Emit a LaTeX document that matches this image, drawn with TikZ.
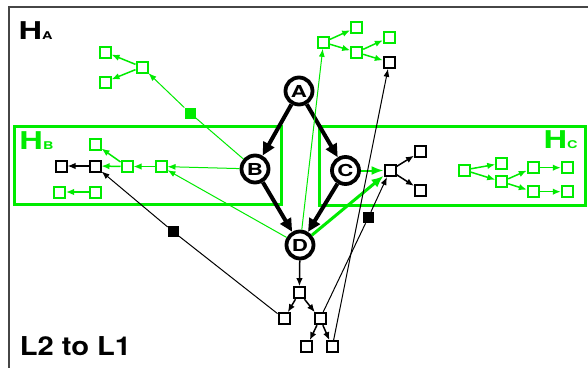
\documentclass[tikz,border=0pt]{standalone}
\usepackage{graphicx}
\usepackage{fontspec}
\setmainfont{TeX Gyre Heros}
\usetikzlibrary{arrows.meta}
\definecolor{gr}{RGB}{0,235,0}
\definecolor{fr}{RGB}{70,70,70}
\begin{document}
\begin{tikzpicture}[x=1pt,y=-1pt,
  sq/.style={draw=black, line width=2pt, minimum size=11pt, inner sep=0pt, fill=white},
  gsq/.style={sq, draw=gr},
  fsq/.style={fill=black, minimum size=11pt, inner sep=0pt},
  gfsq/.style={fsq, fill=gr},
  circ/.style={circle, draw, line width=3.8pt, minimum size=27pt, inner sep=0pt, fill=white, font=\bfseries},
  biga/.style={line width=4pt, -{Triangle[length=13pt,width=12pt]}},
  gthin/.style={gr, line width=1pt, -{Latex[length=8pt,width=6pt]}},
  gmed/.style={gr, line width=1.5pt, -{Latex[length=8pt,width=6.5pt]}},
  bthin/.style={black, line width=1pt, -{Latex[length=8pt,width=6pt]}},
  bmed/.style={black, line width=1.5pt, -{Latex[length=8pt,width=6.5pt]}},
  gbig/.style={gr, line width=2pt, -{Latex[length=12pt,width=9pt]}},
  gbigger/.style={gr, line width=3pt, -{Latex[length=12pt,width=10pt]}},
  lab/.style={anchor=base west, inner sep=0pt, font=\bfseries}
]
\useasboundingbox (0,0) rectangle (588,367);
\fill[white] (0,0) rectangle (588,367);
% frame
\draw[fr, line width=2pt] (9,368) -- (9,7) -- (589,7);
% boxes
\draw[gr, line width=3pt] (14,126) rectangle (281.7,204);
\draw[gr, line width=3pt] (319.5,126) rectangle (585.5,205);
% labels
\node[lab] (la) at (18.3,39.3) {\scalebox{1.33}[1]{\fontsize{24.5}{25}\selectfont H}\scalebox{1.35}[1]{\fontsize{10.7}{11}\selectfont A}};
\node[lab, text=gr] (lb) at (19.3,149.3) {\scalebox{1.33}[1]{\fontsize{24.5}{25}\selectfont H}\scalebox{1.35}[1]{\fontsize{10.7}{11}\selectfont B}};
\node[lab, text=gr] (lc) at (543.3,148) {\scalebox{1.33}[1]{\fontsize{24.5}{25}\selectfont H}\scalebox{1.35}[1]{\fontsize{10.7}{11}\selectfont C}};
\node[lab] (ll) at (19.6,355) {\scalebox{1.12}[1]{\fontsize{26}{26}\selectfont L2 to L1}};
% main circles
\node[circ] (A) at (299,91) {\scalebox{1.35}[1]{\fontsize{16.5}{16}\selectfont A}};
\node[circ] (B) at (255,169) {\scalebox{1.35}[1]{\fontsize{16.5}{16}\selectfont B}};
\node[circ] (C) at (345.5,170.5) {\scalebox{1.35}[1]{\fontsize{16.5}{16}\selectfont C}};
\node[circ] (D) at (300,245) {\scalebox{1.35}[1]{\fontsize{16.5}{16}\selectfont D}};
% HA tree
\node[gsq] (ha1) at (142,67) {};
\node[gsq] (ha2) at (105,52) {};
\node[gsq] (ha3) at (105,82) {};
\node[gfsq] (fa) at (190,113) {};
% top tree
\node[gsq] (t1) at (323.5,42.3) {};
\node[gsq] (t2) at (356.7,27.3) {};
\node[gsq] (t3) at (356.7,52.3) {};
\node[gsq] (t4) at (389.3,37.3) {};
\node[sq] (t5) at (389.3,62.3) {};
% HB tree
\node[sq] (b1) at (61,166) {};
\node[sq] (b2) at (95,166) {};
\node[gsq] (b3) at (95,144) {};
\node[gsq] (b4) at (127,166.5) {};
\node[gsq] (b5) at (161,166.5) {};
\node[gsq] (b6) at (59.5,192) {};
\node[gsq] (b7) at (95,192) {};
% HC
\node[sq] (c0) at (390,170.5) {};
\node[sq] (c1) at (420.5,151.7) {};
\node[sq] (c2) at (420.5,190) {};
\node[gsq] (g1) at (464,170) {};
\node[gsq] (g2) at (501.7,163.3) {};
\node[gsq] (g3) at (501.7,181.7) {};
\node[gsq] (g4) at (533.3,167.7) {};
\node[gsq] (g5) at (567.3,167.7) {};
\node[gsq] (g6) at (533.3,191.7) {};
\node[gsq] (g7) at (567.3,191.7) {};
% bottom tree
\node[sq] (d1) at (299.3,292.7) {};
\node[sq] (d2) at (284,318.7) {};
\node[sq] (d3) at (320,318.7) {};
\node[sq] (d4) at (306.7,346.7) {};
\node[sq] (d5) at (332.3,346.7) {};
\node[fsq] (fb1) at (173.3,231.7) {};
\node[fsq] (fb2) at (368.3,217.5) {};
% main arrows
\draw[biga] (A) -- (B);
\draw[biga] (A) -- (C);
\draw[biga] (B) -- (D);
\draw[biga] (C) -- (D);
% green edges
\draw[gthin] (B) -- (fa) -- (ha1);
\draw[gmed] (ha1) -- (ha2);
\draw[gmed] (ha1) -- (ha3);
\draw[gthin] (D) -- (t1);
\draw[gmed] (t1) -- (t2);
\draw[gmed] (t1) -- (t3);
\draw[gmed] (t3) -- (t4);
\draw[gmed] (t3) -- (t5);
\draw[gthin] (B) -- (b5);
\draw[gthin] (D) -- (b5);
\draw[gmed] (b5) -- (b4);
\draw[gmed] (b4) -- (b2);
\draw[gmed] (b4) -- (b3);
\draw[gmed] (b7) -- (b6);
\draw[bmed] (b2) -- (b1);
\draw[gbig] (C) -- (c0);
\draw[gbigger] (D) -- (c0);
\draw[bmed] (c0) -- (c1);
\draw[bmed] (c0) -- (c2);
\draw[gmed] (g1) -- (g2);
\draw[gmed] (g1) -- (g3);
\draw[gmed] (g3) -- (g4);
\draw[gmed] (g3) -- (g6);
\draw[gmed] (g4) -- (g5);
\draw[gmed] (g6) -- (g7);
% bottom tree
\draw[bmed] (D) -- (d1);
\draw[bmed] (d1) -- (d2);
\draw[bmed] (d1) -- (d3);
\draw[bmed] (d3) -- (d4);
\draw[bmed] (d3) -- (d5);
\draw[bthin] (d2) -- (fb1) -- (b2);
\draw[bthin] (d3) -- (fb2) -- (c0);
\draw[bthin] (d5) -- (t5);
\end{tikzpicture}
\end{document}
